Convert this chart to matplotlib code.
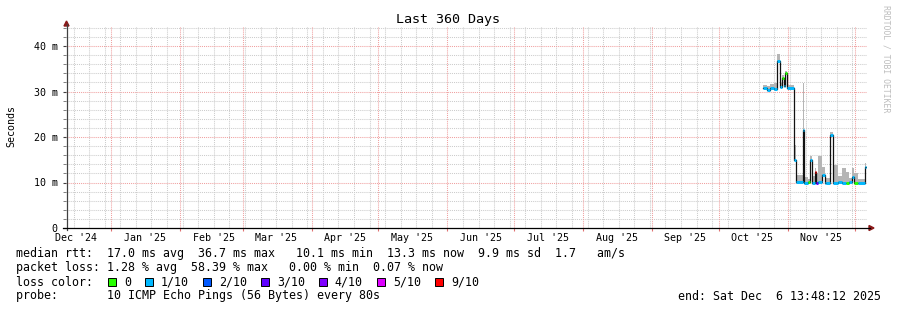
import matplotlib
matplotlib.use("Agg")
import matplotlib.pyplot as plt
from matplotlib.patches import Rectangle, Polygon
from matplotlib.lines import Line2D
import numpy as np
from datetime import datetime, timedelta

# ---------------- data ----------------
END = datetime(2025, 12, 6, 13, 48, 12)
SPAN_DAYS = 360
START = END - timedelta(days=SPAN_DAYS)

title = "Last 360 Days"
ylabel = "Seconds"
y_major_ms = [0, 10, 20, 30, 40]
y_major_labels = ["0", "10 m", "20 m", "30 m", "40 m"]
month_labels = ["Dec '24", "Jan '25", "Feb '25", "Mar '25", "Apr '25", "May '25",
                "Jun '25", "Jul '25", "Aug '25", "Sep '25", "Oct '25", "Nov '25"]

# step segments (days since START): median rtt (ms), top of smoke (ms), loss (tenths)
seg_day = [313.3, 315.1, 316.4, 318.2, 319.6, 320.7, 321.8, 322.5, 323.1, 324.0,
           327.4, 328.1, 331.2, 331.9, 333.5, 334.4, 335.3, 336.6, 337.3, 338.0,
           339.8, 340.9, 341.6, 343.4, 344.5, 346.9, 348.8, 350.6, 351.9, 353.3,
           354.2, 356.0, 358.9]
seg_end_day = 359.6
median_ms = [30.7, 30.4, 30.8, 30.6, 36.7, 31.0, 32.9, 31.2, 34.0, 30.7,
             15.0, 10.1, 21.5, 10.0, 10.1, 15.0, 10.0, 12.4, 10.0, 10.2,
             11.6, 10.0, 10.0, 20.4, 10.0, 10.1, 10.0, 10.0, 10.1, 11.3,
             10.0, 10.0, 13.5]
smoke_ms = [31.5, 31.3, 31.7, 31.8, 38.2, 31.9, 33.6, 32.0, 34.5, 31.4,
            18.2, 11.6, 31.8, 11.2, 10.8, 15.8, 11.5, 13.1, 12.0, 15.8,
            13.5, 11.0, 11.0, 21.2, 13.8, 11.5, 13.2, 12.4, 11.0, 13.1,
            12.0, 10.8, 14.2]
loss_tenths = [1, 1, 1, 1, 1, 1, 0, 1, 0, 1,
               1, 1, 1, 1, 0, 1, 1, 9, 3, 1,
               1, 1, 1, 1, 1, 1, 1, 0, 1, 1,
               0, 1, 1]

loss_levels = ["0", "1/10", "2/10", "3/10", "4/10", "5/10", "9/10"]
loss_values = [0, 1, 2, 3, 4, 5, 9]
loss_colors = ["#26ff00", "#00b8ff", "#0059ff", "#5e00ff", "#7e00ff", "#dd00ff", "#ff0000"]

line_rtt = "median rtt:  17.0 ms avg  36.7 ms max   10.1 ms min  13.3 ms now  9.9 ms sd  1.7   am/s"
line_loss = "packet loss: 1.28 % avg  58.39 % max   0.00 % min  0.07 % now"
line_color = "loss color:"
line_probe = "probe:       10 ICMP Echo Pings (56 Bytes) every 80s"
line_end = "end: Sat Dec  6 13:48:12 2025"
watermark = "RRDTOOL / TOBI OETIKER"

# ---------------- layout ----------------
W, H = 897, 310
MONO = "DejaVu Sans Mono"
fig = plt.figure(figsize=(W / 100, H / 100), dpi=100)
fig.patch.set_facecolor("white")

def fx(px):
    return px / W

def fy(py):
    return 1 - py / H

X0, X1, Y0 = 66, 867, 228
YMAX = 44.5
PX_PER_MS = 4.55
ax = fig.add_axes([fx(X0), fy(Y0), (X1 - X0) / W, YMAX * PX_PER_MS / H])
ax.set_xlim(0, SPAN_DAYS)
ax.set_ylim(0, YMAX)
ax.set_facecolor("white")
for s in ax.spines.values():
    s.set_visible(False)

def day_of(dt):
    return (dt - START).total_seconds() / 86400.0

# month starts
month_days = []
y, m = 2024, 12
while True:
    d = day_of(datetime(y, m, 1))
    if d > SPAN_DAYS:
        break
    month_days.append(d)
    m += 1
    if m > 12:
        m, y = 1, y + 1
label_days = [d + 15.0 for d in month_days]
major_ticks = [d for d in month_days if 0 <= d <= SPAN_DAYS]

# weekly (Sunday) minor grid
first = START.date() + timedelta(days=(6 - START.weekday()) % 7)
sundays = []
dd = datetime(first.year, first.month, first.day)
while day_of(dd) < SPAN_DAYS:
    if day_of(dd) > 0:
        sundays.append(day_of(dd))
    dd += timedelta(days=7)

GRID_MIN = "#cccccc"
GRID_MAJ = "#f0a0a0"
dots = (0, (1, 1))
for d in sundays:
    if min(abs(d - md) for md in major_ticks) > 0.5:
        ax.axvline(d, color=GRID_MIN, lw=0.75, ls=dots, zorder=1)
for d in major_ticks:
    ax.axvline(d, color=GRID_MAJ, lw=0.75, ls=dots, zorder=1.5)
for v in np.arange(2, 45, 2):
    if v % 10 != 0:
        ax.axhline(v, color=GRID_MIN, lw=0.75, ls=dots, zorder=1)
for v in y_major_ms[1:]:
    ax.axhline(v, color=GRID_MAJ, lw=0.75, ls=dots, zorder=1.5)

# ticks
ax.set_yticks(y_major_ms)
ax.set_yticklabels(y_major_labels, family=MONO, fontsize=7.2)
ax.set_yticks(np.arange(0, 45, 2), minor=True)
ax.tick_params(axis="y", which="major", direction="out", length=2, width=0.8,
               color="#404040", pad=4)
ax.tick_params(axis="y", which="minor", direction="out", length=2, width=0.7,
               color="#808080")
ax.set_xticks(major_ticks)
ax.set_xticklabels([])
ax.tick_params(axis="x", which="major", direction="out", length=2.5, width=0.8, color="#e07070")
for d, lab in zip(label_days, month_labels):
    ax.text(d, -1.05, lab, family=MONO, fontsize=7.2, ha="center", va="top",
            transform=ax.transData, clip_on=False)

# ---------------- data marks ----------------
t = np.array(seg_day + [seg_end_day])
med = np.array(median_ms)
smk = np.array(smoke_ms)
med_e = np.append(med, med[-1])
smk_e = np.append(smk, smk[-1])
ax.fill_between(t, med_e, smk_e, step="post", color="#b5b5b5", lw=0, zorder=3)
ax.step(t, med_e, where="post", color="#111111", lw=0.9, zorder=4)
cmap = dict(zip(loss_values, loss_colors))
for i in range(len(med)):
    ax.hlines(med[i], t[i], t[i + 1], colors=cmap[loss_tenths[i]], lw=2.1, zorder=5)

# ---------------- axes lines & arrows ----------------
ARROW = "#8b1a1a"
fig.add_artist(Line2D([fx(66.5), fx(66.5)], [fy(230), fy(24)], color="#404040", lw=0.9,
                      transform=fig.transFigure))
fig.add_artist(Line2D([fx(63), fx(870)], [fy(228), fy(228)], color="#000000", lw=0.9,
                      transform=fig.transFigure))
fig.add_artist(Polygon([[fx(64), fy(26)], [fx(69), fy(26)], [fx(66.5), fy(21)]], closed=True,
                       color=ARROW, transform=fig.transFigure))
fig.add_artist(Polygon([[fx(869), fy(225.5)], [fx(869), fy(230.5)], [fx(874), fy(228)]],
                       closed=True, color=ARROW, transform=fig.transFigure))

# ---------------- texts ----------------
fig.text(fx(448), fy(19), title, family=MONO, fontsize=9.6, ha="center", va="center")
fig.text(fx(11), fy(126), ylabel, family=MONO, fontsize=7.2, ha="center", va="center",
         rotation=90)
fig.text(fx(886), fy(59), watermark, family=MONO, fontsize=5.9, ha="center", va="center",
         rotation=270, color="#bdbdbd")

LF = 8.37
fig.text(fx(16), fy(254), line_rtt, family=MONO, fontsize=LF, ha="left", va="center")
fig.text(fx(16), fy(268), line_loss, family=MONO, fontsize=LF, ha="left", va="center")
fig.text(fx(16), fy(282), line_color, family=MONO, fontsize=LF, ha="left", va="center")
fig.text(fx(16), fy(296), line_probe, family=MONO, fontsize=LF, ha="left", va="center")
fig.text(fx(881), fy(296), line_end, family=MONO, fontsize=LF, ha="right", va="center")

sq = 108.3
for lab, col in zip(loss_levels, loss_colors):
    fig.add_artist(Rectangle((fx(sq), fy(286)), 8 / W, 8 / H, facecolor=col,
                             edgecolor="black", lw=0.7, transform=fig.transFigure))
    lx = sq + 15.5
    fig.text(fx(lx), fy(282), lab, family=MONO, fontsize=LF, ha="left", va="center")
    sq = lx + 7 * len(lab) + 14.5

fig.savefig("out.png", dpi=100, facecolor="white")
